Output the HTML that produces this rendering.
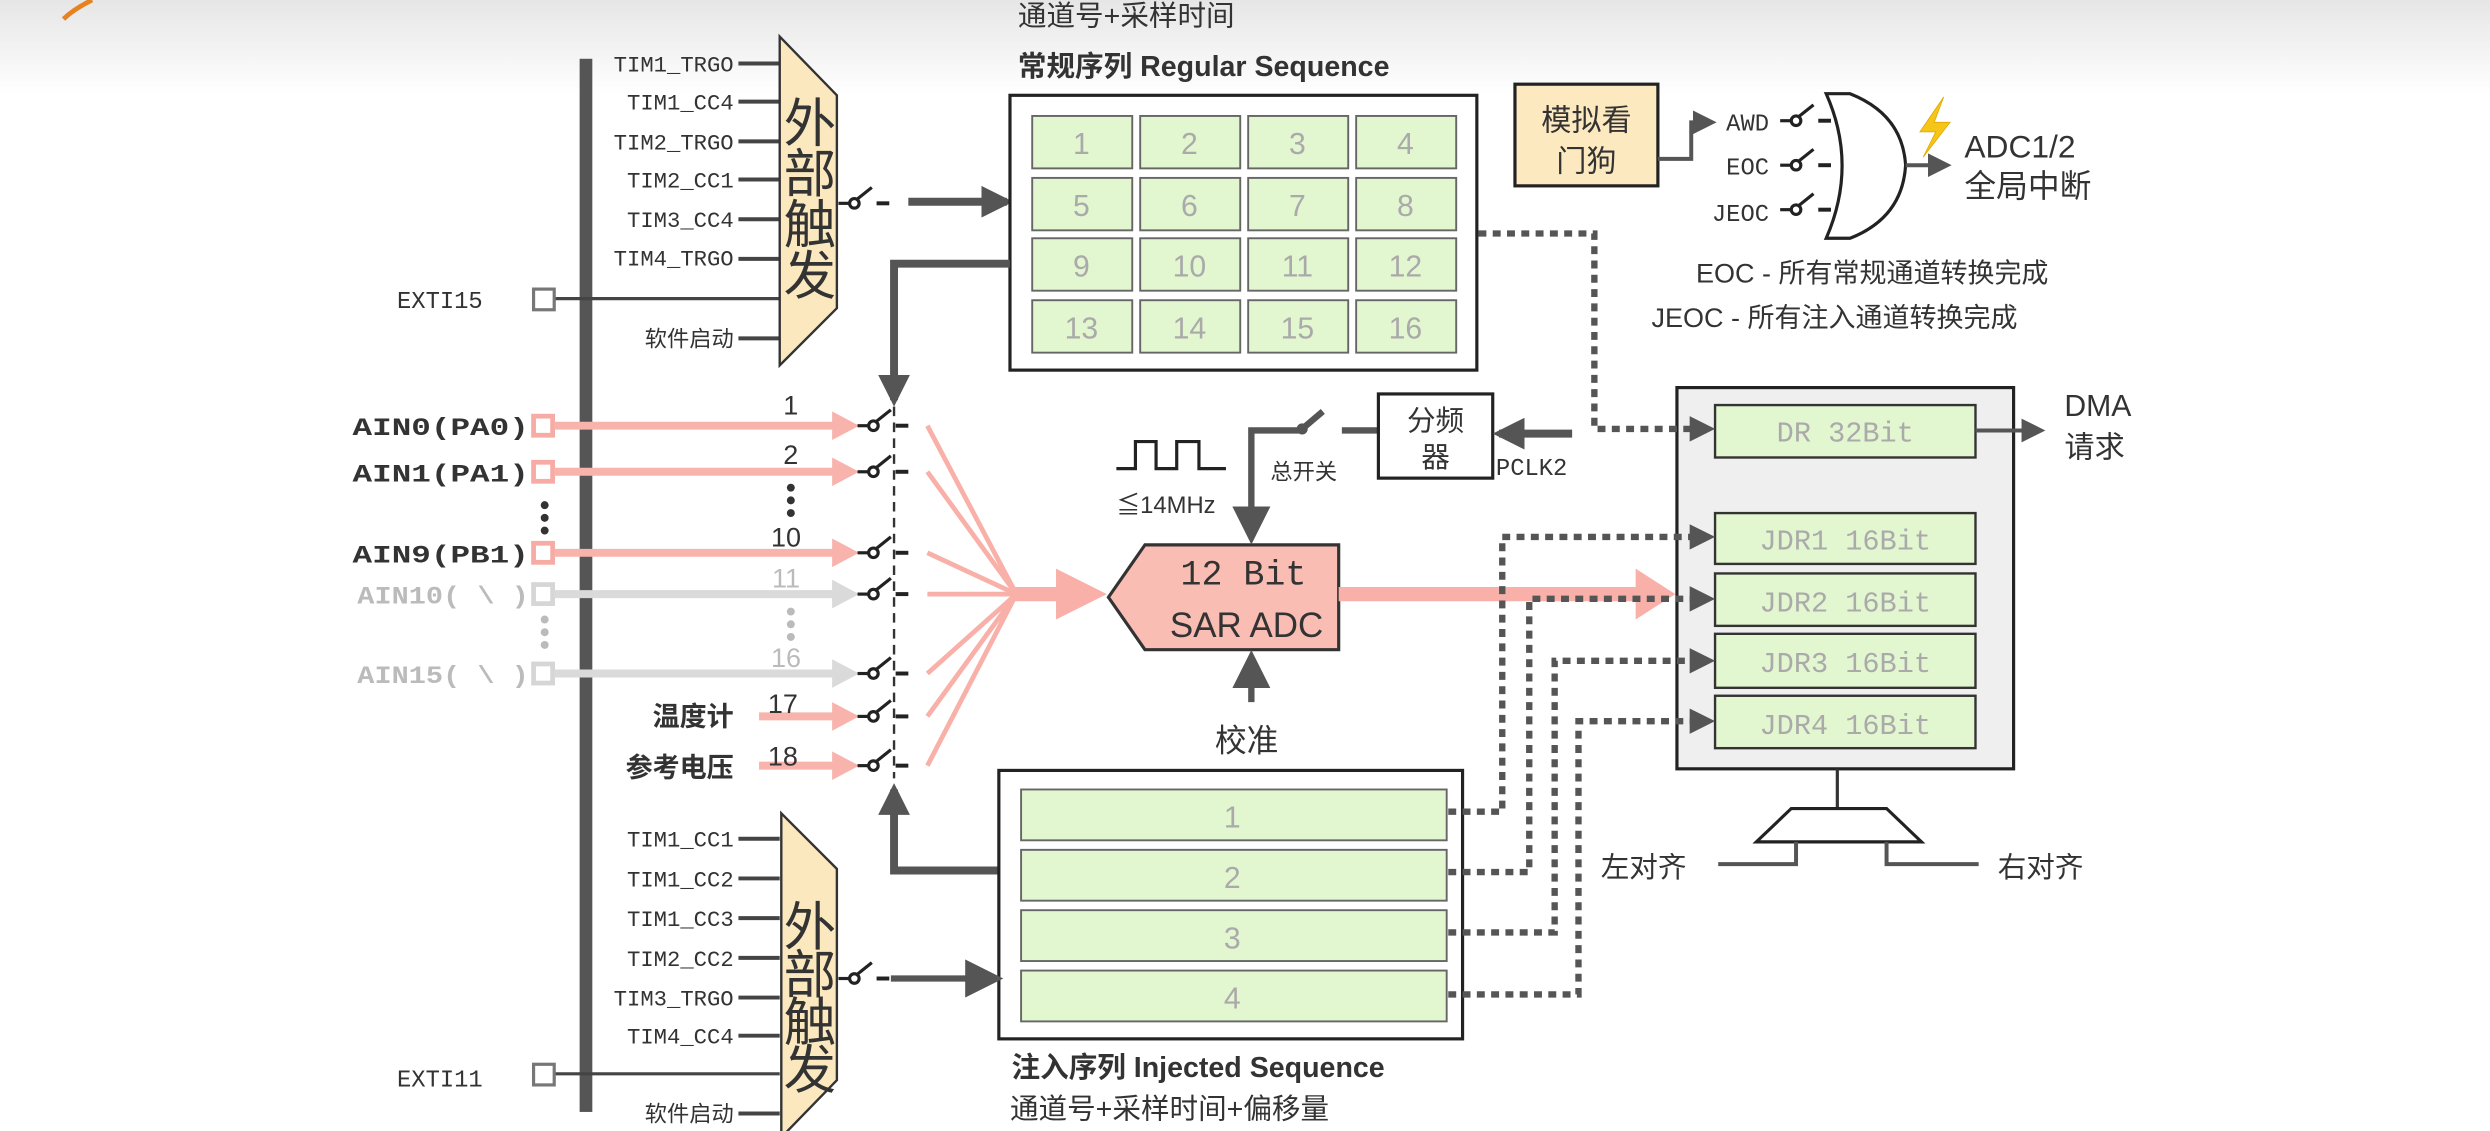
<!DOCTYPE html>
<html><head><meta charset="utf-8">
<style>
html,body{margin:0;padding:0;background:#fff;}
svg{display:block;}
text{font-family:"Liberation Sans","Noto Sans CJK SC",sans-serif;fill:#333;}
.m{font-family:"Liberation Mono","Noto Sans CJK SC",monospace;}
.g{fill:#aaa;}
</style></head>
<body>
<svg width="2490" height="1131" viewBox="0 0 1568 712" preserveAspectRatio="none" xmlns="http://www.w3.org/2000/svg">
<defs>
<linearGradient id="bg" x1="0" y1="0" x2="0" y2="1">
<stop offset="0" stop-color="#e6e6e6"/><stop offset="1" stop-color="#ffffff"/>
</linearGradient>
<marker id="ah" viewBox="0 0 10 10" refX="8" refY="5" markerWidth="4" markerHeight="4" orient="auto"><path d="M0,0L10,5L0,10z" fill="#555"/></marker>
<marker id="ahs" viewBox="0 0 10 10" refX="8" refY="5" markerWidth="6" markerHeight="6" orient="auto"><path d="M0,0L10,5L0,10z" fill="#555"/></marker>
<g id="sw"><line x1="-10" y1="0" x2="-3" y2="0" stroke="#222" stroke-width="2"/><circle cx="0" cy="0" r="3" fill="none" stroke="#222" stroke-width="2"/><line x1="1" y1="-2" x2="11" y2="-10" stroke="#222" stroke-width="2"/><line x1="14" y1="0" x2="22" y2="0" stroke="#222" stroke-width="2.5"/></g>
</defs>
<rect x="0" y="0" width="1568" height="60" fill="url(#bg)"/>
<path d="M58,0 Q46,6 40,12" stroke="#e8821e" stroke-width="3" fill="none"/>

<rect x="365" y="37" width="8" height="663" fill="#555"/>

<g font-size="14" text-anchor="end">
<text x="462" y="45" class="m">TIM1_TRGO</text>
<text x="462" y="69" class="m">TIM1_CC4</text>
<text x="462" y="94" class="m">TIM2_TRGO</text>
<text x="462" y="118" class="m">TIM2_CC1</text>
<text x="462" y="143" class="m">TIM3_CC4</text>
<text x="462" y="167" class="m">TIM4_TRGO</text>
<text x="462" y="218" font-size="14">软件启动</text>
</g>
<g stroke="#444" stroke-width="2.5">
<line x1="465" y1="40" x2="491" y2="40"/><line x1="465" y1="64" x2="491" y2="64"/><line x1="465" y1="89" x2="491" y2="89"/><line x1="465" y1="113" x2="491" y2="113"/><line x1="465" y1="138" x2="491" y2="138"/><line x1="465" y1="163" x2="491" y2="163"/><line x1="465" y1="213" x2="491" y2="213"/>
<line x1="349" y1="188" x2="491" y2="188" stroke-width="2"/>
</g>
<text x="250" y="194" font-size="15" class="m">EXTI15</text>
<rect x="336" y="182" width="13" height="13" fill="#fff" stroke="#777" stroke-width="2"/>
<polygon points="491,23 527,60 527,194 491,230" fill="#fbe8bf" stroke="#333" stroke-width="1.5"/>
<g font-size="33" text-anchor="middle"><text x="510" y="89">外</text><text x="510" y="121">部</text><text x="510" y="153">触</text><text x="510" y="185">发</text></g>
<use href="#sw" x="538" y="128"/>
<line x1="572" y1="127" x2="634" y2="127" stroke="#555" stroke-width="5" marker-end="url(#ah)"/>

<text x="641" y="16" font-size="18">通道号+采样时间</text>
<text x="641" y="48" font-size="18" font-weight="bold">常规序列 Regular Sequence</text>
<rect x="636" y="60" width="294" height="173" fill="#fff" stroke="#222" stroke-width="2"/>
<g fill="#e2f6cf" stroke="#666" stroke-width="1.2">
<rect x="650" y="73" width="63" height="33"/><rect x="718" y="73" width="63" height="33"/><rect x="786" y="73" width="63" height="33"/><rect x="854" y="73" width="63" height="33"/>
<rect x="650" y="112" width="63" height="33"/><rect x="718" y="112" width="63" height="33"/><rect x="786" y="112" width="63" height="33"/><rect x="854" y="112" width="63" height="33"/>
<rect x="650" y="150" width="63" height="33"/><rect x="718" y="150" width="63" height="33"/><rect x="786" y="150" width="63" height="33"/><rect x="854" y="150" width="63" height="33"/>
<rect x="650" y="189" width="63" height="33"/><rect x="718" y="189" width="63" height="33"/><rect x="786" y="189" width="63" height="33"/><rect x="854" y="189" width="63" height="33"/>
</g>
<g font-size="19" text-anchor="middle">
<text x="681" y="97" class="g">1</text><text x="749" y="97" class="g">2</text><text x="817" y="97" class="g">3</text><text x="885" y="97" class="g">4</text>
<text x="681" y="136" class="g">5</text><text x="749" y="136" class="g">6</text><text x="817" y="136" class="g">7</text><text x="885" y="136" class="g">8</text>
<text x="681" y="174" class="g">9</text><text x="749" y="174" class="g">10</text><text x="817" y="174" class="g">11</text><text x="885" y="174" class="g">12</text>
<text x="681" y="213" class="g">13</text><text x="749" y="213" class="g">14</text><text x="817" y="213" class="g">15</text><text x="885" y="213" class="g">16</text>
</g>
<polyline points="636,166 563,166 563,252" fill="none" stroke="#555" stroke-width="5" marker-end="url(#ah)"/>
<line x1="563" y1="256" x2="563" y2="490" stroke="#333" stroke-width="1.5" stroke-dasharray="6,4"/>

<g font-size="16" font-weight="bold" text-anchor="end">
<text x="333" y="274" class="m" textLength="111" lengthAdjust="spacingAndGlyphs">AIN0(PA0)</text>
<text x="333" y="303" class="m" textLength="111" lengthAdjust="spacingAndGlyphs">AIN1(PA1)</text>
<text x="333" y="354" class="m" textLength="111" lengthAdjust="spacingAndGlyphs">AIN9(PB1)</text>
<text x="333" y="380" class="m" textLength="108" lengthAdjust="spacingAndGlyphs" style="fill:#bbb">AIN10( \ )</text>
<text x="333" y="430" class="m" textLength="108" lengthAdjust="spacingAndGlyphs" style="fill:#bbb">AIN15( \ )</text>
<text x="462" y="457" font-size="17">温度计</text>
<text x="462" y="489" font-size="17">参考电压</text>
</g>
<g fill="#fff" stroke="#f6aca4" stroke-width="3">
<rect x="336" y="262" width="12" height="12"/><rect x="336" y="291" width="12" height="12"/><rect x="336" y="342" width="12" height="12"/>
</g>
<g fill="#fff" stroke="#d6d6d6" stroke-width="3">
<rect x="336" y="368" width="12" height="12"/><rect x="336" y="418" width="12" height="12"/>
</g>
<g fill="#333"><circle cx="343" cy="318" r="2.5"/><circle cx="343" cy="326" r="2.5"/><circle cx="343" cy="334" r="2.5"/><circle cx="498" cy="307" r="2.5"/><circle cx="498" cy="315" r="2.5"/><circle cx="498" cy="323" r="2.5"/></g>
<g fill="#bbb"><circle cx="343" cy="390" r="2.5"/><circle cx="343" cy="398" r="2.5"/><circle cx="343" cy="406" r="2.5"/><circle cx="498" cy="385" r="2.5"/><circle cx="498" cy="393" r="2.5"/><circle cx="498" cy="401" r="2.5"/></g>
<g stroke="#f8b4ac" stroke-width="5">
<line x1="349" y1="268" x2="526" y2="268"/><line x1="349" y1="297" x2="526" y2="297"/><line x1="349" y1="348" x2="526" y2="348"/>
<line x1="478" y1="451" x2="526" y2="451"/><line x1="478" y1="482" x2="526" y2="482"/>
</g>
<g fill="#f8b4ac"><path d="M524,259L541,268L524,277z"/><path d="M524,288L541,297L524,306z"/><path d="M524,339L541,348L524,357z"/><path d="M524,442L541,451L524,460z"/><path d="M524,473L541,482L524,491z"/></g>
<g stroke="#dadada" stroke-width="5"><line x1="349" y1="374" x2="526" y2="374"/><line x1="349" y1="424" x2="526" y2="424"/></g>
<g fill="#dadada"><path d="M524,365L541,374L524,383z"/><path d="M524,415L541,424L524,433z"/></g>
<g font-size="17" text-anchor="middle">
<text x="498" y="261">1</text><text x="498" y="292">2</text><text x="495" y="344">10</text><text x="495" y="370" style="fill:#bbb">11</text><text x="495" y="420" style="fill:#bbb">16</text><text x="493" y="449">17</text><text x="493" y="482">18</text>
</g>
<use href="#sw" x="550" y="268"/><use href="#sw" x="550" y="297"/><use href="#sw" x="550" y="348"/><use href="#sw" x="550" y="374"/><use href="#sw" x="550" y="424"/><use href="#sw" x="550" y="451"/><use href="#sw" x="550" y="482"/>
<g stroke="#f8b0a8" stroke-width="3" fill="none">
<line x1="584" y1="268" x2="640" y2="374"/><line x1="584" y1="297" x2="640" y2="374"/><line x1="584" y1="348" x2="640" y2="374"/><line x1="584" y1="374" x2="640" y2="374"/><line x1="584" y1="424" x2="640" y2="374"/><line x1="584" y1="451" x2="640" y2="374"/><line x1="584" y1="482" x2="640" y2="374"/>
</g>
<line x1="638" y1="374" x2="670" y2="374" stroke="#f8b0a8" stroke-width="9"/>
<path d="M665,358L697,374L665,390z" fill="#f8b0a8"/>

<polygon points="698,376 721,343 843,343 843,409 721,409" fill="#f9bdb4" stroke="#333" stroke-width="2"/>
<text x="783" y="368" font-size="22" text-anchor="middle" class="m">12 Bit</text>
<text x="785" y="401" font-size="22" text-anchor="middle">SAR ADC</text>
<line x1="843" y1="374" x2="1035" y2="374" stroke="#f8b0a8" stroke-width="9"/>
<path d="M1030,358L1055,374L1030,390z" fill="#f8b0a8"/>

<path d="M703,295H715V278H728V295H741V278H755V295H772" fill="none" stroke="#222" stroke-width="2"/>
<text x="703" y="323" font-size="15">≦14MHz</text>
<polyline points="818,271 788,271 788,338" fill="none" stroke="#555" stroke-width="4" marker-end="url(#ahs)"/>
<circle cx="820" cy="270" r="3.5" fill="#555"/><line x1="820" y1="270" x2="833" y2="259" stroke="#555" stroke-width="4"/>
<line x1="845" y1="271" x2="868" y2="271" stroke="#555" stroke-width="4"/>
<text x="800" y="302" font-size="14">总开关</text>
<rect x="868" y="248" width="72" height="53" fill="#fff" stroke="#222" stroke-width="2"/>
<text x="904" y="271" font-size="18" text-anchor="middle">分频</text><text x="904" y="294" font-size="18" text-anchor="middle">器</text>
<line x1="990" y1="273" x2="944" y2="273" stroke="#555" stroke-width="5" marker-end="url(#ah)"/>
<text x="942" y="299" font-size="15" class="m">PCLK2</text>
<line x1="788" y1="442" x2="788" y2="414" stroke="#555" stroke-width="4" marker-end="url(#ahs)"/>
<text x="765" y="473" font-size="20">校准</text>

<polyline points="629,548 563,548 563,497" fill="none" stroke="#555" stroke-width="5" marker-end="url(#ah)"/>
<rect x="629" y="485" width="292" height="169" fill="#fff" stroke="#222" stroke-width="2"/>
<g fill="#e2f6cf" stroke="#666" stroke-width="1.2">
<rect x="643" y="497" width="268" height="32"/><rect x="643" y="535" width="268" height="32"/><rect x="643" y="573" width="268" height="32"/><rect x="643" y="611" width="268" height="32"/>
</g>
<g font-size="19" text-anchor="middle"><text x="776" y="521" class="g">1</text><text x="776" y="559" class="g">2</text><text x="776" y="597" class="g">3</text><text x="776" y="635" class="g">4</text></g>
<text x="637" y="678" font-size="18" font-weight="bold">注入序列 Injected Sequence</text>
<text x="636" y="704" font-size="18">通道号+采样时间+偏移量</text>

<g font-size="14" text-anchor="end">
<text x="462" y="533" class="m">TIM1_CC1</text>
<text x="462" y="558" class="m">TIM1_CC2</text>
<text x="462" y="583" class="m">TIM1_CC3</text>
<text x="462" y="608" class="m">TIM2_CC2</text>
<text x="462" y="633" class="m">TIM3_TRGO</text>
<text x="462" y="657" class="m">TIM4_CC4</text>
<text x="462" y="706">软件启动</text>
</g>
<g stroke="#444" stroke-width="2.5">
<line x1="465" y1="528" x2="491" y2="528"/><line x1="465" y1="553" x2="491" y2="553"/><line x1="465" y1="578" x2="491" y2="578"/><line x1="465" y1="603" x2="491" y2="603"/><line x1="465" y1="628" x2="491" y2="628"/><line x1="465" y1="652" x2="491" y2="652"/><line x1="465" y1="701" x2="491" y2="701"/>
<line x1="349" y1="676" x2="491" y2="676" stroke-width="2"/>
</g>
<text x="250" y="684" font-size="15" class="m">EXTI11</text>
<rect x="336" y="670" width="13" height="13" fill="#fff" stroke="#777" stroke-width="2"/>
<polygon points="492,512 527,547 527,680 492,716" fill="#fbe8bf" stroke="#333" stroke-width="1.5"/>
<g font-size="33" text-anchor="middle"><text x="510" y="595">外</text><text x="510" y="625">部</text><text x="510" y="655">触</text><text x="510" y="685">发</text></g>
<use href="#sw" x="538" y="616"/>
<line x1="561" y1="616" x2="627" y2="616" stroke="#555" stroke-width="4" marker-end="url(#ahs)"/>

<rect x="1056" y="244" width="212" height="240" fill="#efefef" stroke="#222" stroke-width="2"/>
<g fill="#e2f6cf" stroke="#333" stroke-width="1.5">
<rect x="1080" y="255" width="164" height="33"/><rect x="1080" y="323" width="164" height="32"/><rect x="1080" y="361" width="164" height="33"/><rect x="1080" y="399" width="164" height="34"/><rect x="1080" y="438" width="164" height="33"/>
</g>
<g font-size="18" text-anchor="middle">
<text x="1162" y="278" class="m g">DR 32Bit</text>
<text x="1162" y="346" class="m g">JDR1 16Bit</text>
<text x="1162" y="385" class="m g">JDR2 16Bit</text>
<text x="1162" y="423" class="m g">JDR3 16Bit</text>
<text x="1162" y="462" class="m g">JDR4 16Bit</text>
</g>
<line x1="1244" y1="271" x2="1285" y2="271" stroke="#555" stroke-width="2.5" marker-end="url(#ahs)"/>
<text x="1300" y="262" font-size="19">DMA</text><text x="1300" y="288" font-size="19">请求</text>

<g fill="none" stroke="#555" stroke-width="4" stroke-dasharray="5,4">
<polyline points="931,147 1004,147 1004,270 1066,270"/>
<polyline points="912,511 946,511 946,338 1066,338"/>
<polyline points="912,549 963,549 963,377 1066,377"/>
<polyline points="912,587 979,587 979,416 1066,416"/>
<polyline points="912,626 994,626 994,454 1066,454"/>
</g>
<g fill="#555"><path d="M1064,262L1080,270L1064,278z"/><path d="M1064,330L1080,338L1064,346z"/><path d="M1064,369L1080,377L1064,385z"/><path d="M1064,408L1080,416L1064,424z"/><path d="M1064,446L1080,454L1064,462z"/></g>

<line x1="1157" y1="484" x2="1157" y2="509" stroke="#333" stroke-width="2"/>
<polygon points="1128,509 1188,509 1210,530 1106,530" fill="#fff" stroke="#222" stroke-width="2"/>
<polyline points="1131,530 1131,544 1082,544" fill="none" stroke="#555" stroke-width="2.5"/>
<polyline points="1188,530 1188,544 1246,544" fill="none" stroke="#555" stroke-width="2.5"/>
<text x="1008" y="552" font-size="18">左对齐</text>
<text x="1258" y="552" font-size="18">右对齐</text>

<rect x="954" y="53" width="90" height="64" fill="#fde9c0" stroke="#222" stroke-width="2"/>
<text x="999" y="82" font-size="19" text-anchor="middle">模拟看</text><text x="999" y="108" font-size="19" text-anchor="middle">门狗</text>
<polyline points="1044,100 1065,100 1065,77 1078,77" fill="none" stroke="#555" stroke-width="2.5" marker-end="url(#ahs)"/>
<g font-size="15" text-anchor="end">
<text x="1114" y="82" class="m">AWD</text><text x="1114" y="110" class="m">EOC</text><text x="1114" y="139" class="m">JEOC</text>
</g>
<use href="#sw" x="1131" y="76"/><use href="#sw" x="1131" y="104"/><use href="#sw" x="1131" y="132"/>
<path d="M1150,59H1165Q1198,72 1200,104Q1198,137 1165,150H1150Q1170,104 1150,59Z" fill="#fff" stroke="#222" stroke-width="2"/>
<line x1="1200" y1="104" x2="1226" y2="104" stroke="#555" stroke-width="2.5" marker-end="url(#ahs)"/>
<path d="M1224,61L1209,83L1219,83L1211,99L1228,77L1218,77Z" fill="#f5c518" stroke="#e0a800" stroke-width="0.5"/>
<text x="1237" y="99" font-size="20">ADC1/2</text>
<text x="1237" y="124" font-size="20">全局中断</text>
<text x="1068" y="178" font-size="17">EOC - 所有常规通道转换完成</text>
<text x="1040" y="206" font-size="17">JEOC - 所有注入通道转换完成</text>
</svg>
</body></html>
